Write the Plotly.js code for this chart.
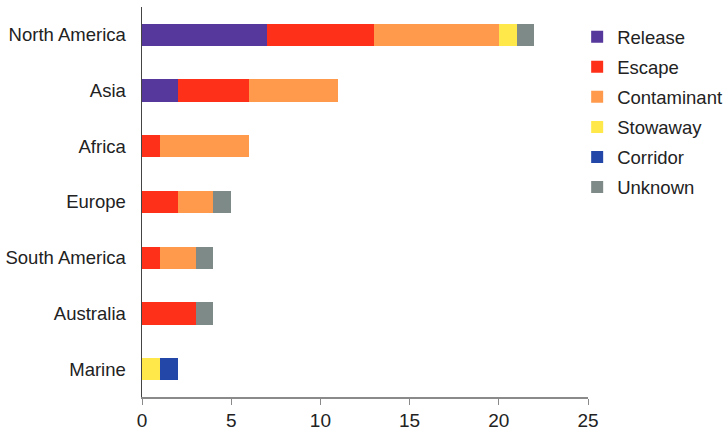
<!DOCTYPE html>
<html><head><meta charset="utf-8">
<script src="https://cdn.plot.ly/plotly-3.0.1.min.js"></script>
<style>html,body{margin:0;padding:0;background:#fff;}</style>
</head><body>
<div id="chart" style="width:726px;height:434px;"></div>
<script>
const categories = ["North America","Asia","Africa","Europe","South America","Australia","Marine"];
const seriesNames = ["Release","Escape","Contaminant","Stowaway","Corridor","Unknown"];
const release     = [7,2,0,0,0,0,0];
const escape      = [6,4,1,2,1,3,0];
const contaminant = [7,5,5,2,2,0,0];
const stowaway    = [1,0,0,0,0,0,1];
const corridor    = [0,0,0,0,0,0,1];
const unknown     = [1,0,0,1,1,1,0];
const colors = ["#56379b","#ff3019","#ff9a4d","#ffe84a","#2347a8","#7d8a87"];
const xTicks = [0,5,10,15,20,25];

const allValues = [release,escape,contaminant,stowaway,corridor,unknown];
const traces = allValues.map((vals,i)=>({
  type:'bar', orientation:'h', name:seriesNames[i],
  x:vals, y:categories, legendgroup:'g'+i,
  marker:{color:colors[i], line:{width:0}},
  hoverinfo:'x+name'
}));

const layout = {
  width:726, height:434,
  margin:{l:142,r:138,t:7,b:37,pad:0,autoexpand:false},
  barmode:'stack', bargap:0.6,
  paper_bgcolor:'#fff', plot_bgcolor:'#fff',
  font:{family:'Liberation Sans, Arial, sans-serif', color:'#222', size:18.5},
  xaxis:{range:[0,25], tickvals:xTicks, ticktext:xTicks.map(String), showgrid:false, zeroline:false,
    showline:true, linecolor:'#8a8a8a', linewidth:1.5, ticks:'outside', ticklen:6, tickcolor:'#8a8a8a',
    tickfont:{size:19, color:'#222'}, automargin:false, fixedrange:true},
  yaxis:{autorange:'reversed', showgrid:false, zeroline:false, showline:true, linecolor:'#444', linewidth:1.5,
    ticks:'', ticklen:0, ticklabelstandoff:11, tickfont:{size:18.5, color:'#222'}, automargin:false, fixedrange:true},
  legend:{xref:'container', yref:'container', x:0.795, xanchor:'left', y:0.958, yanchor:'top',
    traceorder:'grouped', tracegroupgap:3,
    font:{size:18.5, color:'#222'}, itemwidth:30, bgcolor:'rgba(0,0,0,0)'},
  showlegend:true
};
Plotly.newPlot('chart', traces, layout, {displayModeBar:false, staticPlot:true});
</script>
</body></html>
